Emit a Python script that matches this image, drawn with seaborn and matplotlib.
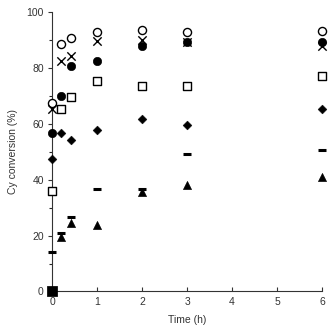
import numpy as np
import pandas as pd
import seaborn as sns
from matplotlib import pyplot as plt

# sampling times (h)
times = [0, 0.2, 0.42, 1, 2, 3, 6]

# Cy conversion (%) for each series
open_circle = [67.3, 88.5, 90.5, 92.6, 93.4, 92.6, 93.2]
cross = [65.2, 82.4, 84.3, 89.4, 90.0, 89.0, 87.8]
filled_circle = [56.8, 69.9, 80.7, 82.5, 87.7, 89.3, 89.3]
open_square = [36.0, 65.2, 69.6, 75.2, 73.6, 73.5, 76.9]
diamond = [47.5, 56.8, 54.2, 57.7, 61.7, 59.4, 65.1]
dash = [14.2, 21.0, 26.7, 36.8, 36.6, 49.2, 50.6]
triangle = [0.0, 19.5, 24.4, 23.7, 35.4, 38.2, 40.9]
filled_square_t = [0]
filled_square = [0.0]

sns.set_style("ticks")
plt.rcParams['font.family'] = ['Liberation Sans', 'DejaVu Sans']

fig = plt.figure(figsize=(3.32, 3.32), dpi=100)
ax = fig.add_axes([0.157, 0.122, 0.813, 0.843])

series = [
    (times, triangle, dict(marker='^', s=34, color='black', edgecolor='black')),
    (times, dash, dict(marker='_', s=40, color='black', linewidth=2.2)),
    (times, diamond, dict(marker='D', s=20, color='black', edgecolor='black')),
    (times, open_square, dict(marker='s', s=30, facecolor='white', edgecolor='black', linewidth=1.0)),
    (times, open_circle, dict(marker='o', s=34, facecolor='white', edgecolor='black', linewidth=1.0)),
    (times, cross, dict(marker='x', s=36, color='black', linewidth=1.0)),
    (times, filled_circle, dict(marker='o', s=36, color='black', edgecolor='black')),
    (filled_square_t, filled_square, dict(marker='s', s=45, color='black', edgecolor='black')),
]
for i, (tx, vals, kw) in enumerate(series):
    df = pd.DataFrame({'t': tx, 'v': vals})
    sns.scatterplot(data=df, x='t', y='v', ax=ax, legend=False, zorder=3 + i, clip_on=False, **kw)

ax.set_xlim(0, 6)
ax.set_ylim(0, 100)
ax.set_xticks(range(0, 7))
ax.set_yticks(range(0, 101, 20))
ax.set_yticks(range(10, 100, 20), minor=True)
ax.tick_params(axis='y', which='major', direction='out', length=3, width=0.8, labelsize=7.5, colors='#333333', pad=3)
ax.tick_params(axis='y', which='minor', direction='out', length=2, width=0.8)
ax.tick_params(axis='x', direction='in', length=3, width=0.8, labelsize=7.5, colors='#333333', pad=4)
for side in ['top', 'right']:
    ax.spines[side].set_visible(False)
for side in ['left', 'bottom']:
    ax.spines[side].set_linewidth(0.8)
    ax.spines[side].set_color('#333333')

ax.set_xlabel('Time (h)', fontsize=7.5, color='#333333', labelpad=6)
ax.set_ylabel('Cy conversion (%)', fontsize=7.5, color='#333333', labelpad=6)

fig.savefig('out.png', dpi=100)
